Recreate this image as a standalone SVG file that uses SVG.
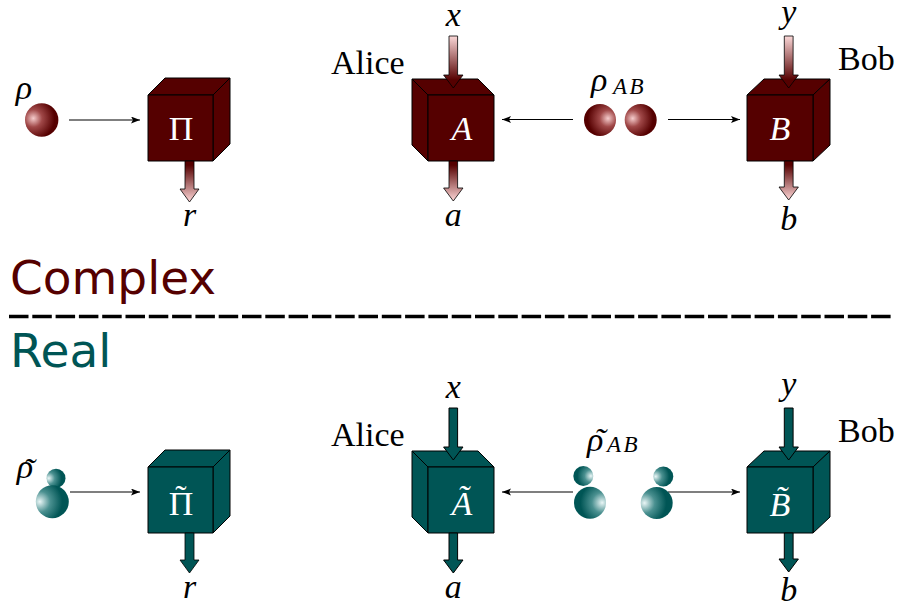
<svg xmlns="http://www.w3.org/2000/svg" width="899" height="602" viewBox="0 0 899 602">
<defs>
<style>
.cr{fill:#550000;stroke:#000;stroke-width:1;stroke-linejoin:round}
.ct{fill:#005555;stroke:#000;stroke-width:1;stroke-linejoin:round}
.m{font-family:"Liberation Serif","Times New Roman",serif;font-style:italic;font-size:34px;fill:#000}
.u{font-family:"Liberation Serif","Times New Roman",serif;font-size:34px;fill:#000}
.w{fill:#fff}
.sub{font-family:"Liberation Serif","Times New Roman",serif;font-style:italic;font-size:23px;letter-spacing:2.5px;fill:#000}
.head{font-family:"DejaVu Sans","Verdana",sans-serif;font-size:47px}
.conn{stroke:#000;stroke-width:1.1;fill:none;marker-end:url(#ah)}
.bar{stroke:#000;stroke-width:0.8;stroke-linejoin:miter}
</style>
<marker id="ah" markerUnits="userSpaceOnUse" markerWidth="10" markerHeight="8" refX="9" refY="3.5" orient="auto">
<path d="M0,0 L9,3.5 L0,7 L2,3.5 z" fill="#000"/>
</marker>
<linearGradient id="gIn" x1="0" y1="0" x2="0" y2="1">
<stop offset="0" stop-color="#fbd8d8"/>
<stop offset="0.85" stop-color="#550000"/>
</linearGradient>
<linearGradient id="gOut" x1="0" y1="0" x2="0" y2="1">
<stop offset="0.1" stop-color="#550000"/>
<stop offset="1" stop-color="#ffd8d8"/>
</linearGradient>
<radialGradient id="rbL" cx="0.25" cy="0.45" r="0.75">
<stop offset="0" stop-color="#f6cccc"/>
<stop offset="0.35" stop-color="#a04848"/>
<stop offset="0.85" stop-color="#550000"/>
</radialGradient>
<radialGradient id="rbR" cx="0.75" cy="0.45" r="0.75">
<stop offset="0" stop-color="#f6cccc"/>
<stop offset="0.35" stop-color="#a04848"/>
<stop offset="0.85" stop-color="#550000"/>
</radialGradient>
<radialGradient id="tbL" cx="0.12" cy="0.5" r="0.8">
<stop offset="0" stop-color="#eaf6f6"/>
<stop offset="0.4" stop-color="#4a9090"/>
<stop offset="0.85" stop-color="#005555"/>
</radialGradient>
<radialGradient id="tbR" cx="0.88" cy="0.5" r="0.8">
<stop offset="0" stop-color="#eaf6f6"/>
<stop offset="0.4" stop-color="#4a9090"/>
<stop offset="0.85" stop-color="#005555"/>
</radialGradient>
</defs>
<rect width="899" height="602" fill="#fff"/>

<!-- ===== Complex (top) ===== -->
<g id="state-rho">
<circle cx="41.7" cy="120" r="16.7" fill="url(#rbL)"/>
<text class="m" x="24" y="99" text-anchor="middle">ρ</text>
</g>
<g id="box-pi">
<polygon class="cr" points="148,95 165,78 230,78 213,95"/>
<polygon class="cr" points="213,95 230,78 230,144 213,161"/>
<rect class="cr" x="148" y="95" width="65" height="66"/>
<text class="u w" x="181" y="140" text-anchor="middle">Π</text>
<polygon class="bar" fill="url(#gOut)" points="185,161 194,161 194,189 199,189 189.5,202 180,189 185,189"/>
<text class="m" x="189.5" y="226" text-anchor="middle">r</text>
</g>

<g id="box-alice">
<polygon class="cr" points="428,95 412,79 478,79 494,95"/>
<polygon class="cr" points="428,95 412,79 412,145 428,161"/>
<rect class="cr" x="428" y="95" width="66" height="66"/>
<text class="m w" x="462" y="140" text-anchor="middle">A</text>
<polygon class="bar" fill="url(#gIn)" points="449,36 457.6,36 457.6,75 463,75 453.3,88 443.6,75 449,75"/>
<polygon class="bar" fill="url(#gOut)" points="449,161 457.6,161 457.6,188 463,188 453.3,201 443.6,188 449,188"/>
<text class="m" x="453.3" y="26" text-anchor="middle">x</text>
<text class="m" x="453.3" y="226" text-anchor="middle">a</text>
<text class="u" x="331" y="74">Alice</text>
</g>

<g id="state-rhoAB">
<circle cx="600" cy="120" r="16" fill="url(#rbR)"/>
<circle cx="640.7" cy="120" r="16" fill="url(#rbL)"/>
<text class="m" x="591" y="91">ρ<tspan class="sub" x="613" y="93.5">AB</tspan></text>
</g>

<g id="box-bob">
<polygon class="cr" points="747,95 764,79 830,79 813,95"/>
<polygon class="cr" points="813,95 830,79 830,145 813,161"/>
<rect class="cr" x="747" y="95" width="66" height="66"/>
<text class="m w" x="780" y="140" text-anchor="middle">B</text>
<polygon class="bar" fill="url(#gIn)" points="784.3,36 793.1,36 793.1,75 798.4,75 788.7,88 779,75 784.3,75"/>
<polygon class="bar" fill="url(#gOut)" points="784.3,161 793.1,161 793.1,187 798.4,187 788.7,200 779,187 784.3,187"/>
<text class="m" x="788.7" y="23" text-anchor="middle">y</text>
<text class="m" x="788.7" y="230" text-anchor="middle">b</text>
<text class="u" x="838" y="70">Bob</text>
</g>

<g id="connectors">
<line class="conn" x1="69" y1="120" x2="140" y2="120"/>
<line class="conn" x1="573" y1="119.5" x2="502" y2="119.5"/>
<line class="conn" x1="668" y1="119.5" x2="740" y2="119.5"/>
<line class="conn" x1="70" y1="492" x2="140" y2="492"/>
<line class="conn" x1="573" y1="492" x2="502" y2="492"/>
<line class="conn" x1="668" y1="492" x2="740" y2="492"/>
</g>

<!-- divider -->
<text class="head" x="10" y="293.5" fill="#550000">Complex</text>
<line x1="9" y1="316.5" x2="892" y2="316.5" stroke="#000" stroke-width="3.6" stroke-dasharray="19.5 3.8"/>
<text class="head" x="10" y="367" fill="#005555">Real</text>

<!-- ===== Real (bottom) ===== -->
<g id="state-rho-tilde">
<circle cx="56" cy="478.3" r="9.5" fill="url(#tbL)"/>
<circle cx="52.3" cy="501.7" r="16.5" fill="url(#tbL)"/>
<text class="m" x="25" y="478" text-anchor="middle">ρ<tspan x="29" y="482" text-anchor="middle">˜</tspan></text>
</g>
<g id="box-pi-tilde" transform="translate(0,372)">
<polygon class="ct" points="148,95 165,78 230,78 213,95"/>
<polygon class="ct" points="213,95 230,78 230,144 213,161"/>
<rect class="ct" x="148" y="95" width="65" height="66"/>
<text class="u w" x="181" y="143" text-anchor="middle">Π<tspan x="181" y="137" text-anchor="middle">˜</tspan></text>
<polygon class="bar" fill="#005555" points="185,161 194,161 194,188 199,188 189.5,201 180,188 185,188"/>
<text class="m" x="189.5" y="226" text-anchor="middle">r</text>
</g>

<g id="box-alice-tilde" transform="translate(0,372)">
<polygon class="ct" points="428,95 412,79 478,79 494,95"/>
<polygon class="ct" points="428,95 412,79 412,145 428,161"/>
<rect class="ct" x="428" y="95" width="66" height="66"/>
<text class="m w" x="462" y="143" text-anchor="middle">Ã</text>
<polygon class="ct" points="449,36 457.6,36 457.6,75 463,75 453.3,88 443.6,75 449,75"/>
<polygon class="ct" points="449,161 457.6,161 457.6,188 463,188 453.3,201 443.6,188 449,188"/>
<text class="m" x="453.3" y="26" text-anchor="middle">x</text>
<text class="m" x="453.3" y="226" text-anchor="middle">a</text>
<text class="u" x="331" y="74">Alice</text>
</g>

<g id="state-rhoAB-tilde">
<circle cx="583.3" cy="476" r="10" fill="url(#tbR)"/>
<circle cx="590" cy="502.7" r="16" fill="url(#tbR)"/>
<circle cx="663.3" cy="476.5" r="10" fill="url(#tbL)"/>
<circle cx="656.7" cy="503" r="16" fill="url(#tbL)"/>
<text class="m" x="587" y="451">ρ<tspan x="600" y="452" text-anchor="middle">˜</tspan><tspan class="sub" x="607" y="452">AB</tspan></text>
</g>

<g id="box-bob-tilde" transform="translate(0,372)">
<polygon class="ct" points="747,95 764,79 830,79 813,95"/>
<polygon class="ct" points="813,95 830,79 830,145 813,161"/>
<rect class="ct" x="747" y="95" width="66" height="66"/>
<text class="m w" x="780" y="143.5" text-anchor="middle">B̃</text>
<polygon class="ct" points="784.3,36 793.1,36 793.1,75 798.4,75 788.7,88 779,75 784.3,75"/>
<polygon class="ct" points="784.3,161 793.1,161 793.1,187 798.4,187 788.7,200 779,187 784.3,187"/>
<text class="m" x="788.7" y="23" text-anchor="middle">y</text>
<text class="m" x="788.7" y="229" text-anchor="middle">b</text>
<text class="u" x="838" y="70">Bob</text>
</g>
</svg>
